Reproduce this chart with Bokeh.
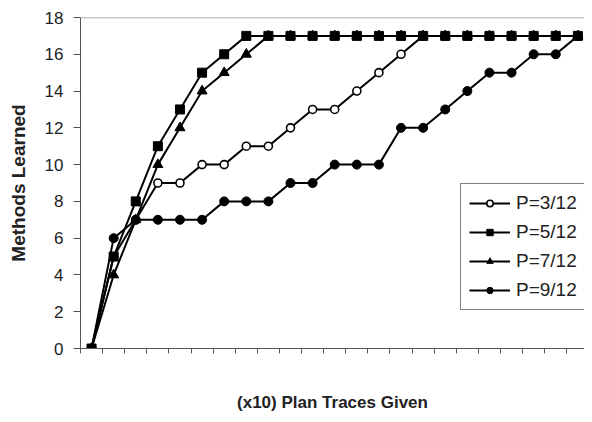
from bokeh.plotting import figure
from bokeh.models import FixedTicker, Legend, LegendItem, Span
from bokeh.embed import file_html
from bokeh.resources import INLINE

# ---- data ----
x_idx = list(range(23))
p_3_12 = [0, 5, 7, 9, 9, 10, 10, 11, 11, 12, 13, 13, 14, 15, 16, 17, 17, 17, 17, 17, 17, 17, 17]
p_5_12 = [0, 5, 8, 11, 13, 15, 16, 17, 17, 17, 17, 17, 17, 17, 17, 17, 17, 17, 17, 17, 17, 17, 17]
p_7_12 = [0, 4, 7, 10, 12, 14, 15, 16, 17, 17, 17, 17, 17, 17, 17, 17, 17, 17, 17, 17, 17, 17, 17]
p_9_12 = [0, 6, 7, 7, 7, 7, 8, 8, 8, 9, 9, 10, 10, 10, 12, 12, 13, 14, 15, 15, 16, 16, 17]
labels = ["P=3/12", "P=5/12", "P=7/12", "P=9/12"]
y_ticks = [0, 2, 4, 6, 8, 10, 12, 14, 16, 18]
x_cat_bounds = [i - 0.5 for i in range(24)]
x_title = "(x10) Plan Traces Given"
y_title = "Methods Learned"

FONT = "Liberation Sans"
AX = "#555555"

p = figure(width=584, height=414, output_backend="svg", toolbar_location=None,
           x_range=(-0.5, 22.3), y_range=(0, 18),
           min_border_left=80, min_border_top=17, min_border_bottom=65, min_border_right=0)
p.outline_line_color = None
p.xgrid.visible = False
p.ygrid.visible = False
p.background_fill_color = "white"

# x axis: only small boundary ticks (as minor ticks), no tick labels
p.xaxis.ticker = FixedTicker(ticks=[], minor_ticks=x_cat_bounds)
p.xaxis.major_label_standoff = 0
p.xaxis.major_tick_in = 0
p.xaxis.major_tick_out = 5
p.xaxis.minor_tick_in = 0
p.xaxis.minor_tick_out = 5
p.xaxis.axis_line_color = AX
p.xaxis.major_tick_line_color = AX
p.xaxis.minor_tick_line_color = AX
p.xaxis.axis_label = x_title
p.xaxis.axis_label_text_font = FONT
p.xaxis.axis_label_text_font_style = "bold"
p.xaxis.axis_label_text_font_size = "17px"
p.xaxis.axis_label_text_color = "#222222"
p.xaxis.axis_label_standoff = 39

p.yaxis.ticker = FixedTicker(ticks=y_ticks)
p.yaxis.minor_tick_line_color = None
p.yaxis.major_tick_in = 0
p.yaxis.major_tick_out = 7
p.yaxis.axis_line_color = AX
p.yaxis.major_tick_line_color = AX
p.yaxis.major_label_text_font = FONT
p.yaxis.major_label_text_font_size = "17px"
p.yaxis.major_label_text_color = "#222222"
p.yaxis.major_label_standoff = 10
p.yaxis.axis_label = y_title
p.yaxis.axis_label_text_font = FONT
p.yaxis.axis_label_text_font_style = "bold"
p.yaxis.axis_label_text_font_size = "19px"
p.yaxis.axis_label_text_color = "#222222"
p.yaxis.axis_label_standoff = 13

top_line = Span(location=18, dimension="width", line_color="#8a949c", line_width=1.5)
p.add_layout(top_line)

items = []
l1 = p.line(x_idx, p_3_12, line_color="black", line_width=2)
s1 = p.scatter(x_idx, p_3_12, marker="circle", size=8, fill_color="white", line_color="black", line_width=1.6)
items.append(LegendItem(label=labels[0], renderers=[l1, s1]))

l2 = p.line(x_idx, p_5_12, line_color="black", line_width=2)
s2 = p.scatter(x_idx, p_5_12, marker="square", size=9, fill_color="black", line_color="black")
items.append(LegendItem(label=labels[1], renderers=[l2, s2]))

l3 = p.line(x_idx, p_7_12, line_color="black", line_width=2)
s3 = p.scatter(x_idx, p_7_12, marker="triangle", size=10, fill_color="black", line_color="black")
items.append(LegendItem(label=labels[2], renderers=[l3, s3]))

l4 = p.line(x_idx, p_9_12, line_color="black", line_width=2)
s4 = p.scatter(x_idx, p_9_12, marker="circle", size=9, fill_color="black", line_color="black")
items.append(LegendItem(label=labels[3], renderers=[l4, s4]))

legend = Legend(items=items, location=(380, 38))
legend.border_line_color = "black"
legend.border_line_width = 1
legend.background_fill_color = "white"
legend.background_fill_alpha = 1
legend.padding = 8
legend.margin = 0
legend.spacing = 7
legend.glyph_width = 41
legend.glyph_height = 16
legend.label_height = 20
legend.label_standoff = 6
legend.label_text_font = FONT
legend.label_text_font_size = "19px"
legend.label_text_color = "#222222"
p.add_layout(legend, "center")

open("out.html", "w").write(file_html(p, INLINE))
